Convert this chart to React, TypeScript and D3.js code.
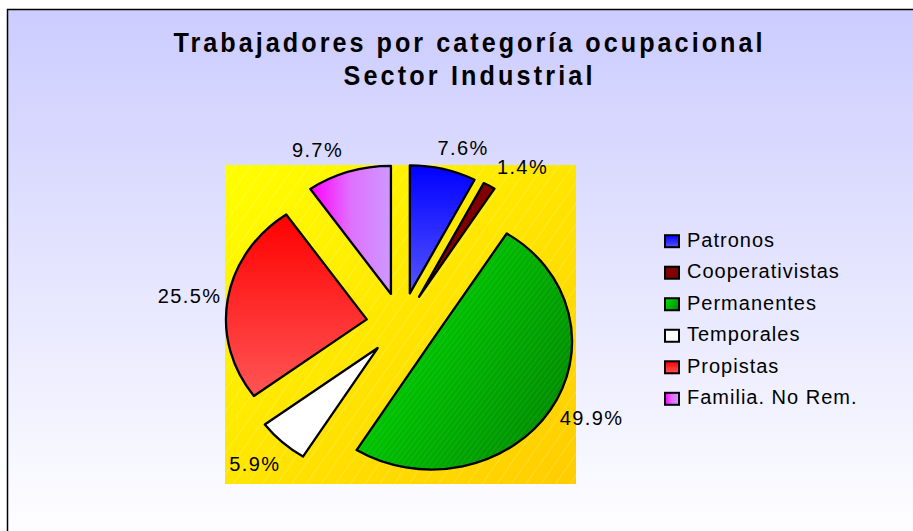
import React from "react";
import * as d3 from "d3";

const categories = ["Patronos", "Cooperativistas", "Permanentes", "Temporales", "Propistas", "Familia. No Rem."];
const values = [7.6, 1.4, 49.9, 5.9, 25.5, 9.7];
const titleLines = ["Trabajadores por categoría ocupacional", "Sector Industrial"];

// layout (not data)
const W = 913, H = 531;
const plot = { x0: 225, y0: 165, x1: 576, y1: 484 };
const R = 128;
const xStretch = 1.1;
const explode = 32;
// label placement in polar coords around pie centre (deg clockwise from 12 o'clock, unscaled radius)
const labelAngle = [17.6, 34.8, 118.4, 223.7, 278.6, 336.4];
const labelRadius = [185, 192.7, 196.4, 192.9, 194.9, 190.8];
const fills = ["url(#gBlue)", "#800000", "url(#gGreen)", "#ffffff", "url(#gRed)", "url(#gMag)"];
const titleWidths = [589, 249];
const titleBaselines = [51.7, 85];
const titleSqueeze = 0.9;

const FONT = "'Liberation Sans', Arial, sans-serif";

export default function App() {
  const cx = (plot.x0 + plot.x1) / 2 + 1;
  const cy = (plot.y0 + plot.y1) / 2;
  const pie = d3.pie<number>().sort(null).value((d) => d)(values);
  const arc = d3.arc<d3.PieArcDatum<number>>().innerRadius(0).outerRadius(R);
  const rad = (deg: number) => (deg * Math.PI) / 180;

  const legendY = d3.scaleLinear().domain([0, categories.length - 1]).range([246.7, 404.3]);

  return (
    <svg width={W} height={H} style={{ position: "absolute", left: 0, top: 0 }} fontFamily={FONT}>
      <defs>
        <linearGradient id="bg" gradientUnits="userSpaceOnUse" x1="0" y1="9" x2="0" y2="545">
          <stop offset="0" stopColor="#ccccff" />
          <stop offset="1" stopColor="#ffffff" />
        </linearGradient>
        <linearGradient id="gPlot" x1="0" y1="0" x2="1" y2="1">
          <stop offset="0" stopColor="#ffff00" />
          <stop offset="1" stopColor="#ffcc00" />
        </linearGradient>
        <pattern id="hatch" patternUnits="userSpaceOnUse" width="12" height="12" patternTransform="rotate(35)">
          <line x1="0" y1="0" x2="0" y2="12" stroke="#ffffff" strokeWidth="1" strokeOpacity="0.35" />
        </pattern>
        <pattern id="hatchG" patternUnits="userSpaceOnUse" width="4" height="4" patternTransform="rotate(35)">
          <line x1="0" y1="0" x2="0" y2="4" stroke="#ffffff" strokeWidth="0.8" strokeOpacity="0.18" />
        </pattern>
        <linearGradient id="gBlue" x1="0" y1="0" x2="0" y2="1">
          <stop offset="0" stopColor="#0000ff" />
          <stop offset="1" stopColor="#5555ff" />
        </linearGradient>
        <linearGradient id="gRed" x1="0" y1="0" x2="0" y2="1">
          <stop offset="0" stopColor="#ff0000" />
          <stop offset="1" stopColor="#ff5555" />
        </linearGradient>
        <linearGradient id="gGreen" x1="0" y1="0.2" x2="1" y2="0.8">
          <stop offset="0" stopColor="#00e000" />
          <stop offset="1" stopColor="#008800" />
        </linearGradient>
        <linearGradient id="gMag" x1="0" y1="0" x2="1" y2="0">
          <stop offset="0" stopColor="#ff00ff" />
          <stop offset="0.5" stopColor="#e070ff" />
          <stop offset="1" stopColor="#cc99ff" />
        </linearGradient>
      </defs>

      <rect x={0} y={0} width={W} height={H} fill="#ffffff" />
      <rect x={7.5} y={9.5} width={W + 20} height={H + 20} fill="url(#bg)" stroke="#000" strokeWidth={1.5} />

      {titleLines.map((t, i) => (
        <g key={i} transform={`translate(468,${titleBaselines[i]}) scale(${titleSqueeze},1)`}>
          <text
            x={0}
            y={0}
            textAnchor="middle"
            fontWeight="bold"
            fontSize={28}
            textLength={titleWidths[i] / titleSqueeze}
            lengthAdjust="spacing"
            fill="#000"
          >
            {t}
          </text>
        </g>
      ))}

      <rect x={plot.x0} y={plot.y0} width={plot.x1 - plot.x0} height={plot.y1 - plot.y0} fill="url(#gPlot)" />
      <rect x={plot.x0} y={plot.y0} width={plot.x1 - plot.x0} height={plot.y1 - plot.y0} fill="url(#hatch)" />

      <g transform={`translate(${cx},${cy}) scale(${xStretch},1)`}>
        {pie.map((p, i) => {
          const mid = (p.startAngle + p.endAngle) / 2;
          const dx = explode * Math.sin(mid);
          const dy = -explode * Math.cos(mid);
          const path = arc(p) || "";
          return (
            <g key={i} transform={`translate(${dx},${dy})`}>
              <path d={path} fill={fills[i]} stroke="none" />
              {i === 2 && <path d={path} fill="url(#hatchG)" stroke="none" />}
              <path d={path} fill="none" stroke="#000" strokeWidth={2.3} strokeLinejoin="round" vectorEffect="non-scaling-stroke" />
            </g>
          );
        })}
      </g>

      {values.map((v, i) => {
        const a = rad(labelAngle[i]);
        const x = cx + xStretch * labelRadius[i] * Math.sin(a);
        const y = cy - labelRadius[i] * Math.cos(a);
        return (
          <text key={i} x={x} y={y + 7.3} textAnchor="middle" fontSize={20} letterSpacing={1.4} fill="#000">
            {v.toFixed(1) + "%"}
          </text>
        );
      })}

      {categories.map((c, i) => {
        const by = legendY(i);
        return (
          <g key={c}>
            <rect x={665} y={by - 11.5} width={14} height={12} fill={fills[i]} stroke="#000" strokeWidth={2} />
            <text x={687} y={by} fontSize={20} letterSpacing={1} fill="#000">
              {c}
            </text>
          </g>
        );
      })}
    </svg>
  );
}
